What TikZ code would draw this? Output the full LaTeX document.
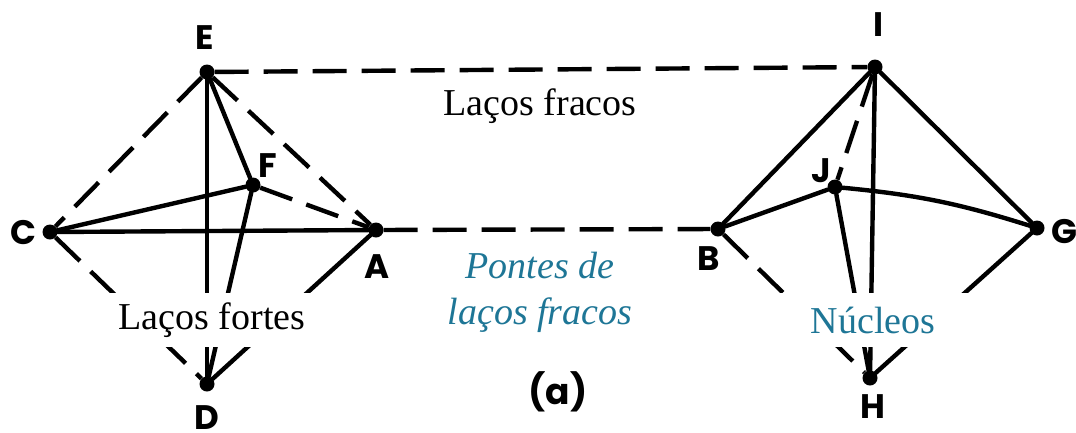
\documentclass[tikz,border=0pt]{standalone}
\usepackage{fontspec}
\setmainfont{Liberation Serif}
\newfontfamily\labfont{Poppins}
\definecolor{teal1}{RGB}{30,118,150}
\begin{document}
\begin{tikzpicture}[x=1pt,y=-1pt,
  dot/.style={circle,fill=black,inner sep=0pt,minimum size=15pt},
  lab/.style={font=\labfont\bfseries\fontsize{34}{36}\selectfont,inner sep=0pt},
  strong/.style={line width=4.4pt,line cap=round},
  weak/.style={line width=4.4pt,dash pattern=on 34pt off 15pt},
  txt/.style={font=\fontsize{38}{44}\selectfont,inner sep=0pt},
  cover/.style={fill=white,minimum height=54pt,inner sep=0pt}]
\useasboundingbox (0,0) rectangle (1076,432);
% nodes
\node[dot] (E) at (207,72) {};
\node[dot] (F) at (253,185) {};
\node[dot] (C) at (50,232) {};
\node[dot] (A) at (376,230) {};
\node[dot] (D) at (207,384) {};
\node[dot] (I) at (875,67) {};
\node[dot] (J) at (835,187) {};
\node[dot] (B) at (718,229) {};
\node[dot] (G) at (1037,228) {};
\node[dot] (H) at (870,378) {};
% labels
\node[lab] (lE) at (205,38) {E};
\node[lab] (lF) at (268,166) {F};
\node[lab] (lC) at (23,233) {C};
\node[lab] (lA) at (377,267) {A};
\node[lab] (lD) at (207,418) {D};
\node[lab] (lI) at (879,25) {I};
\node[lab] (lJ) at (821,171) {J};
\node[lab] (lB) at (709,259) {B};
\node[lab] (lG) at (1064,232) {G};
\node[lab] (lH) at (873,407) {H};
% weak ties (bridges)
\draw[weak] (E) -- (I);
\draw[weak] (A) -- (B);
% left cluster
\draw[weak] (E) -- (C);
\draw[weak] (E) -- (A);
\draw[weak] (F) -- (A);
\draw[weak] (C) -- (D);
\draw[strong] (E) -- (D);
\draw[strong] (E) -- (F);
\draw[strong] (C) -- (F);
\draw[strong] (C) -- (A);
\draw[strong] (F) -- (D);
\draw[strong] (A) -- (D);
% right cluster
\draw[strong] (I) -- (B);
\draw[weak] (I) -- (J);
\draw[strong] (I) -- (H);
\draw[strong] (I) -- (G);
\draw[strong] (B) -- (J);
\draw[strong] (J) to[bend left=6] (G);
\draw[strong] (J) -- (H);
\draw[weak] (B) -- (H);
\draw[strong] (G) -- (H);
% texts
\node[txt] (tw) at (540,106) {Laços fracos};
\node[txt,cover,minimum width=215pt] (ts) at (212,320) {Laços fortes};
\node[txt,cover,minimum width=205pt,text=teal1] (tn) at (873,320) {Núcleos};
\node[txt,text=teal1,align=center,font=\fontsize{38}{46}\selectfont\itshape] (tb) at (540,292) {Pontes de\\laços fracos};
\node[font=\labfont\bfseries\fontsize{36}{38}\selectfont,inner sep=0pt] (ta) at (558,392) {(a)};
\end{tikzpicture}
\end{document}
